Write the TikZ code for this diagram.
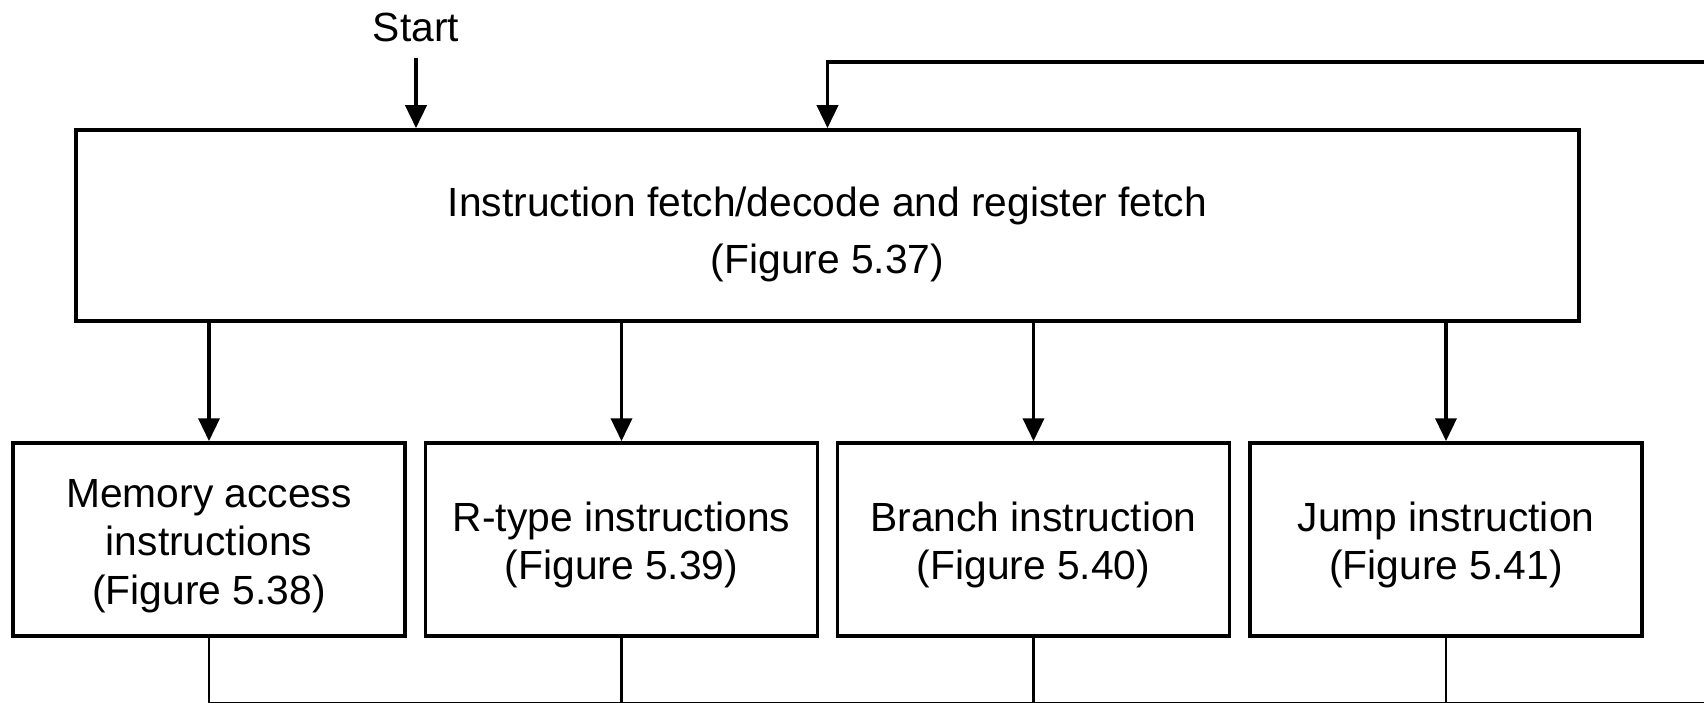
\documentclass[tikz,border=0pt]{standalone}
\usepackage{fontspec}
\setmainfont{Liberation Sans}
\usetikzlibrary{arrows.meta,positioning}

% pushes the first line of a box a little down
\newcommand{\padtop}[1]{\rule{0pt}{#1}}

\begin{document}
\begin{tikzpicture}[
    x=0.02cm, y=-0.02cm,
    box/.style={rectangle, draw=black, line width=2.2pt, inner sep=0pt, minimum width=7.84cm, minimum height=3.86cm, align=center, font=\fontsize{23.2}{27.5}\selectfont},
    arr/.style={-{Triangle[length=13pt, width=12pt]}, line width=2pt},
    wire/.style={line width=1.6pt}
]
\useasboundingbox (0,0) rectangle (1704,703);

% Start label
\node[font=\fontsize{23.2}{28}\selectfont] (start) at (416, 27) {Start};

% Fetch / decode state
\node[box, minimum width=30.06cm, minimum height=3.82cm, font=\fontsize{23.2}{32.5}\selectfont] (fetch) at (827.5, 225.5)
    {\padtop{27pt}Instruction fetch/decode and register fetch\\(Figure 5.37)};

% Execution states
\node[box] (mem) at (209, 539.5) {\padtop{23.4pt}Memory access\\instructions\\(Figure 5.38)};
\node[box] (rtype) at (621.5, 539.5) {\padtop{23.4pt}R-type instructions\\(Figure 5.39)};
\node[box] (branch) at (1033.5, 539.5) {\padtop{23.4pt}Branch instruction\\(Figure 5.40)};
\node[box] (jump) at (1446, 539.5) {\padtop{23.4pt}Jump instruction\\(Figure 5.41)};

% Arrows into fetch
\draw[arr, shorten <=6pt] (start.south) -- (start.south |- fetch.north);
\coordinate (loop) at (1710, 62);
\draw[arr] (loop) -- (loop -| fetch.north) -- (fetch.north);

% Arrows to execution states
\foreach \n in {mem, rtype, branch, jump} {
    \draw[arr] (\n.north |- fetch.south) -- (\n.north);
}

% Return lines
\coordinate (ret) at (1710, 703);
\draw[wire] (mem.south) -- (mem.south |- ret) -- (ret);
\foreach \n in {rtype, branch, jump} {
    \draw[wire] (\n.south) -- (\n.south |- ret);
}

\end{tikzpicture}
\end{document}
